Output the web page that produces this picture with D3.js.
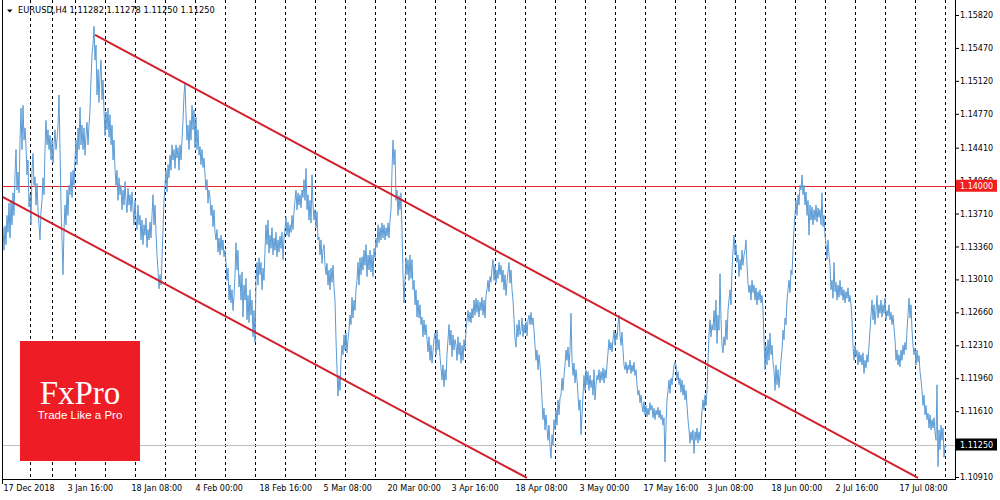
<!DOCTYPE html>
<html>
<head>
<meta charset="utf-8">
<script src="https://cdn.jsdelivr.net/npm/d3@7"></script>
<style>
  body { margin: 0; background: #fff; }
  svg { display: block; font-family: "DejaVu Sans", sans-serif; }
</style>
</head>
<body>
<svg id="chart" width="1000" height="500"></svg>
<script>
// header of the terminal window
const symbolName = "EURUSD,H4";
const lastBarOHLC = [1.11282, 1.11278, 1.11250, 1.11250];

// H4 closes, one per bar
const closes = [
  1.1343,1.1356,1.1332,1.1358,1.1338,1.1369,1.1351,1.1382,1.1345,1.1385,1.1359,1.1393,1.1369,1.1412,1.1439,1.1396,1.1415,1.1393,1.1449,1.1483,
  1.1439,1.1486,1.1449,1.1462,1.1442,1.1412,1.1428,1.1378,1.1391,1.1359,1.1417,1.1435,1.1401,1.1410,1.1380,1.1403,1.1375,1.1359,1.1343,1.1373,
  1.1385,1.1409,1.1391,1.1439,1.1470,1.1444,1.1460,1.1439,1.1454,1.1428,1.1449,1.1425,1.1444,1.1460,1.1439,1.1449,1.1465,1.1497,1.1439,1.1380,
  1.1343,1.1306,1.1354,1.1380,1.1359,1.1396,1.1369,1.1401,1.1391,1.1415,1.1388,1.1417,1.1401,1.1428,1.1449,1.1423,1.1462,1.1439,1.1484,1.1444,
  1.1465,1.1439,1.1462,1.1433,1.1454,1.1468,1.1444,1.1465,1.1481,1.1513,1.1540,1.1550,1.1570,1.1534,1.1550,1.1497,1.1524,1.1489,1.1518,1.1534,
  1.1492,1.1513,1.1481,1.1454,1.1479,1.1460,1.1483,1.1452,1.1476,1.1444,1.1465,1.1428,1.1449,1.1419,1.1401,1.1417,1.1385,1.1409,1.1391,1.1401,
  1.1375,1.1396,1.1380,1.1405,1.1385,1.1372,1.1398,1.1380,1.1391,1.1373,1.1394,1.1377,1.1359,1.1385,1.1366,1.1354,1.1380,1.1359,1.1369,1.1343,
  1.1364,1.1338,1.1359,1.1348,1.1366,1.1335,1.1354,1.1343,1.1362,1.1345,1.1369,1.1391,1.1359,1.1380,1.1351,1.1327,1.1311,1.1291,1.1306,1.1295,
  1.1322,1.1354,1.1385,1.1401,1.1417,1.1394,1.1423,1.1409,1.1433,1.1417,1.1444,1.1428,1.1439,1.1419,1.1444,1.1430,1.1441,1.1417,1.1444,1.1428,
  1.1449,1.1470,1.1497,1.1510,1.1476,1.1449,1.1465,1.1439,1.1470,1.1449,1.1486,1.1460,1.1481,1.1441,1.1473,1.1439,1.1460,1.1433,1.1442,1.1423,
  1.1439,1.1420,1.1430,1.1412,1.1396,1.1407,1.1382,1.1396,1.1388,1.1369,1.1380,1.1357,1.1375,1.1351,1.1343,1.1354,1.1330,1.1345,1.1327,1.1348,
  1.1332,1.1343,1.1325,1.1332,1.1319,1.1300,1.1313,1.1279,1.1295,1.1276,1.1290,1.1268,1.1284,1.1306,1.1340,1.1311,1.1332,1.1293,1.1306,1.1279,
  1.1309,1.1261,1.1295,1.1279,1.1302,1.1258,1.1284,1.1255,1.1290,1.1263,1.1279,1.1240,1.1268,1.1234,1.1300,1.1319,1.1295,1.1324,1.1306,1.1319,
  1.1290,1.1313,1.1300,1.1332,1.1359,1.1338,1.1364,1.1329,1.1348,1.1334,1.1356,1.1327,1.1345,1.1332,1.1351,1.1325,1.1343,1.1330,1.1347,1.1334,
  1.1351,1.1322,1.1345,1.1354,1.1367,1.1348,1.1362,1.1346,1.1359,1.1351,1.1369,1.1354,1.1373,1.1385,1.1396,1.1375,1.1393,1.1380,1.1391,1.1377,
  1.1396,1.1388,1.1407,1.1385,1.1419,1.1375,1.1391,1.1364,1.1385,1.1361,1.1412,1.1380,1.1364,1.1375,1.1356,1.1373,1.1343,1.1346,1.1327,1.1343,
  1.1318,1.1332,1.1338,1.1316,1.1306,1.1318,1.1295,1.1311,1.1290,1.1313,1.1298,1.1316,1.1293,1.1279,1.1237,1.1205,1.1177,1.1199,1.1183,1.1215,
  1.1231,1.1221,1.1242,1.1226,1.1244,1.1223,1.1237,1.1247,1.1263,1.1253,1.1282,1.1260,1.1279,1.1268,1.1290,1.1300,1.1319,1.1295,1.1324,1.1306,
  1.1325,1.1311,1.1332,1.1316,1.1338,1.1304,1.1327,1.1311,1.1332,1.1309,1.1327,1.1304,1.1334,1.1324,1.1345,1.1335,1.1359,1.1340,1.1356,1.1343,
  1.1361,1.1345,1.1359,1.1343,1.1356,1.1347,1.1361,1.1345,1.1364,1.1375,1.1417,1.1449,1.1423,1.1439,1.1385,1.1396,1.1369,1.1390,1.1375,1.1393,
  1.1354,1.1306,1.1276,1.1300,1.1324,1.1306,1.1322,1.1300,1.1327,1.1302,1.1322,1.1290,1.1300,1.1274,1.1290,1.1261,1.1279,1.1260,1.1274,1.1253,
  1.1261,1.1240,1.1258,1.1242,1.1253,1.1237,1.1224,1.1240,1.1215,1.1231,1.1212,1.1226,1.1237,1.1244,1.1221,1.1247,1.1226,1.1237,1.1219,1.1207,
  1.1194,1.1210,1.1187,1.1205,1.1194,1.1221,1.1237,1.1253,1.1231,1.1247,1.1219,1.1242,1.1226,1.1237,1.1231,1.1215,1.1240,1.1221,1.1234,1.1212,
  1.1231,1.1215,1.1237,1.1226,1.1247,1.1258,1.1268,1.1256,1.1266,1.1255,1.1270,1.1260,1.1279,1.1263,1.1281,1.1266,1.1279,1.1261,1.1277,1.1268,
  1.1282,1.1263,1.1279,1.1260,1.1284,1.1290,1.1300,1.1288,1.1304,1.1298,1.1313,1.1322,1.1300,1.1316,1.1297,1.1311,1.1302,1.1319,1.1306,1.1316,
  1.1298,1.1311,1.1290,1.1306,1.1284,1.1298,1.1309,1.1319,1.1297,1.1311,1.1290,1.1279,1.1258,1.1237,1.1229,1.1253,1.1240,1.1258,1.1242,1.1247,
  1.1260,1.1240,1.1253,1.1244,1.1256,1.1241,1.1258,1.1263,1.1253,1.1266,1.1253,1.1260,1.1247,1.1231,1.1215,1.1226,1.1205,1.1221,1.1210,1.1194,
  1.1173,1.1152,1.1164,1.1141,1.1157,1.1143,1.1130,1.1146,1.1123,1.1111,1.1136,1.1125,1.1152,1.1141,1.1162,1.1146,1.1173,1.1157,1.1175,1.1178,
  1.1196,1.1183,1.1199,1.1210,1.1226,1.1215,1.1229,1.1208,1.1226,1.1265,1.1215,1.1199,1.1212,1.1191,1.1205,1.1194,1.1178,1.1162,1.1173,1.1136,
  1.1157,1.1178,1.1199,1.1183,1.1205,1.1189,1.1203,1.1183,1.1199,1.1186,1.1194,1.1178,1.1205,1.1173,1.1189,1.1199,1.1194,1.1205,1.1191,1.1203,
  1.1194,1.1207,1.1191,1.1205,1.1196,1.1210,1.1223,1.1237,1.1226,1.1234,1.1224,1.1237,1.1247,1.1231,1.1244,1.1237,1.1253,1.1263,1.1242,1.1231,
  1.1245,1.1226,1.1210,1.1205,1.1213,1.1201,1.1210,1.1205,1.1215,1.1201,1.1210,1.1203,1.1213,1.1199,1.1205,1.1189,1.1178,1.1183,1.1170,1.1178,
  1.1167,1.1160,1.1171,1.1157,1.1167,1.1155,1.1164,1.1157,1.1170,1.1162,1.1167,1.1154,1.1164,1.1152,1.1162,1.1157,1.1165,1.1154,1.1162,1.1152,
  1.1157,1.1146,1.1154,1.1107,1.1146,1.1173,1.1183,1.1194,1.1180,1.1196,1.1189,1.1199,1.1210,1.1213,1.1210,1.1194,1.1203,1.1189,1.1196,1.1181,
  1.1194,1.1178,1.1189,1.1173,1.1183,1.1167,1.1152,1.1141,1.1127,1.1139,1.1130,1.1141,1.1116,1.1139,1.1130,1.1143,1.1127,1.1139,1.1130,1.1146,
  1.1162,1.1173,1.1162,1.1178,1.1167,1.1183,1.1215,1.1242,1.1258,1.1240,1.1253,1.1247,1.1268,1.1247,1.1279,1.1233,1.1263,1.1247,1.1307,1.1258,
  1.1231,1.1223,1.1240,1.1231,1.1258,1.1237,1.1268,1.1279,1.1290,1.1274,1.1311,1.1332,1.1348,1.1327,1.1338,1.1319,1.1327,1.1304,1.1322,1.1311,
  1.1332,1.1316,1.1327,1.1332,1.1343,1.1316,1.1297,1.1287,1.1295,1.1279,1.1300,1.1287,1.1295,1.1279,1.1292,1.1274,1.1288,1.1279,1.1290,1.1276,
  1.1284,1.1268,1.1237,1.1205,1.1231,1.1210,1.1237,1.1215,1.1244,1.1221,1.1231,1.1213,1.1205,1.1183,1.1210,1.1189,1.1205,1.1186,1.1199,1.1215,
  1.1226,1.1247,1.1237,1.1260,1.1253,1.1279,1.1290,1.1300,1.1287,1.1311,1.1306,1.1332,1.1354,1.1369,1.1385,1.1369,1.1391,1.1380,1.1401,1.1396,
  1.1412,1.1391,1.1401,1.1380,1.1394,1.1369,1.1385,1.1348,1.1380,1.1364,1.1378,1.1359,1.1375,1.1364,1.1380,1.1362,1.1377,1.1367,1.1375,1.1359,
  1.1393,1.1357,1.1369,1.1348,1.1338,1.1322,1.1343,1.1327,1.1316,1.1290,1.1300,1.1281,1.1319,1.1288,1.1298,1.1279,1.1295,1.1282,1.1300,1.1284,
  1.1293,1.1279,1.1290,1.1276,1.1288,1.1281,1.1292,1.1277,1.1284,1.1274,1.1258,1.1231,1.1215,1.1231,1.1219,1.1226,1.1210,1.1224,1.1213,1.1221,
  1.1210,1.1223,1.1201,1.1215,1.1207,1.1221,1.1213,1.1231,1.1247,1.1263,1.1279,1.1258,1.1274,1.1253,1.1268,1.1284,1.1260,1.1274,1.1265,1.1279,
  1.1261,1.1274,1.1265,1.1281,1.1258,1.1268,1.1262,1.1274,1.1258,1.1266,1.1253,1.1263,1.1250,1.1237,1.1215,1.1226,1.1210,1.1221,1.1208,1.1226,
  1.1215,1.1231,1.1221,1.1234,1.1226,1.1247,1.1263,1.1281,1.1260,1.1274,1.1247,1.1231,1.1221,1.1228,1.1210,1.1226,1.1213,1.1220,1.1203,1.1194,
  1.1183,1.1167,1.1178,1.1157,1.1167,1.1152,1.1159,1.1143,1.1157,1.1141,1.1152,1.1143,1.1154,1.1139,1.1130,1.1189,1.1102,1.1141,1.1120,1.1146,
  1.1130,1.1143,1.1112,1.1125
];

// bar index where each trading week starts (period separators)
const weekStarts = [28, 50, 73, 103, 133, 163, 193, 223, 253, 283, 313, 343, 373, 403, 433, 463,
  493, 523, 553, 583, 613, 643, 673, 703, 733, 763, 793, 823, 853, 883, 913, 943];

// time scale labels
const labelBars = [0, 64, 128, 192, 256, 320, 384, 448, 512, 576, 640, 704, 768, 832, 896];
const labelTexts = ["17 Dec 2018", "3 Jan 16:00", "18 Jan 08:00", "4 Feb 00:00", "18 Feb 16:00",
  "5 Mar 08:00", "20 Mar 00:00", "3 Apr 16:00", "18 Apr 08:00", "3 May 00:00", "17 May 16:00",
  "3 Jun 08:00", "18 Jun 00:00", "2 Jul 16:00", "17 Jul 08:00"];

// price scale labels
const priceTicks = [1.15820, 1.15470, 1.15120, 1.14770, 1.14410, 1.14060, 1.13710, 1.13360,
  1.13010, 1.12660, 1.12310, 1.11960, 1.11610, 1.11260, 1.10910];

// drawn objects: channel (bar, price) and levels
const upperChannel = [[93, 1.1561], [916, 1.1090]];
const lowerChannel = [[0, 1.1389], [525, 1.1090]];
const levelPrice = 1.14000;
const bidPrice = 1.11250;

const svg = d3.select("#chart");

let x = d3.scaleLinear()
  .domain([0, 953])
  .range([2, 955]);

let y = d3.scaleLinear()
  .domain([1.10910, 1.15820])
  .range([477, 15]);

svg.append("defs").append("clipPath")
  .attr("id", "plotClip")
  .append("rect")
  .attr("x", 2).attr("y", 0)
  .attr("width", 953).attr("height", 479);

let plot = svg.append("g").attr("clip-path", "url(#plotClip)");

// period separators
plot.selectAll(".sep")
  .data(weekStarts)
  .join("line")
  .attr("class", "sep")
  .attr("x1", d => Math.round(x(d)) + 0.5)
  .attr("x2", d => Math.round(x(d)) + 0.5)
  .attr("y1", 0)
  .attr("y2", 479)
  .attr("stroke", "#000")
  .attr("stroke-dasharray", "3,3")
  .attr("shape-rendering", "crispEdges");

// bid line
plot.append("line")
  .attr("x1", 2).attr("x2", 955)
  .attr("y1", Math.round(y(bidPrice)) + 0.5)
  .attr("y2", Math.round(y(bidPrice)) + 0.5)
  .attr("stroke", "#c0c0c0")
  .attr("shape-rendering", "crispEdges");

// horizontal level
plot.append("line")
  .attr("x1", 2).attr("x2", 955)
  .attr("y1", Math.round(y(levelPrice)) + 0.5)
  .attr("y2", Math.round(y(levelPrice)) + 0.5)
  .attr("stroke", "#e3262b")
  .attr("shape-rendering", "crispEdges");

// price line
plot.append("path")
  .datum(closes)
  .attr("fill", "none")
  .attr("stroke", "#5b9bd5")
  .attr("stroke-width", 1)
  .attr("d", d3.line().x((d, i) => x(i)).y(d => y(d)));

// channel
plot.selectAll(".channel")
  .data([upperChannel, lowerChannel])
  .join("path")
  .attr("class", "channel")
  .attr("fill", "none")
  .attr("stroke", "#d1202b")
  .attr("stroke-width", 2)
  .attr("d", d3.line().x(d => x(d[0])).y(d => y(d[1])));

// frame
svg.append("path")
  .attr("d", "M2.5,0V484M2,479.5H955.5M955.5,0V480")
  .attr("fill", "none")
  .attr("stroke", "#000")
  .attr("shape-rendering", "crispEdges");

// price axis
let yAxis = svg.append("g")
  .attr("transform", "translate(955,0)")
  .call(d3.axisRight(y)
    .tickValues(priceTicks)
    .tickFormat(d3.format(".5f"))
    .tickSize(4)
    .tickPadding(1)
    .tickSizeOuter(0));
yAxis.select(".domain").remove();
yAxis.selectAll("text").style("font-family", "DejaVu Sans").style("font-size", "8px").attr("fill", "#000");

// time axis
let xAxis = svg.append("g")
  .attr("transform", "translate(0,479)")
  .call(d3.axisBottom(x)
    .tickValues(labelBars)
    .tickFormat((d, i) => labelTexts[i])
    .tickSize(0)
    .tickPadding(6));
xAxis.select(".domain").remove();
xAxis.selectAll("text")
  .attr("text-anchor", "start")
  .attr("dx", 1)
  .style("font-family", "DejaVu Sans").style("font-size", "8px").attr("fill", "#000");

// price tags
const tags = [
  { price: levelPrice, fill: "#f21d1d" },
  { price: bidPrice, fill: "#000" }
];
let tag = svg.selectAll(".tag")
  .data(tags)
  .join("g")
  .attr("class", "tag")
  .attr("transform", d => "translate(956," + y(d.price) + ")");
tag.append("rect")
  .attr("x", 0).attr("y", -6.5)
  .attr("width", 41).attr("height", 12)
  .attr("fill", d => d.fill);
tag.append("text")
  .attr("x", 4).attr("y", 3)
  .style("font-size", "8px")
  .attr("fill", "#fff")
  .text(d => d.price.toFixed(5));

// header
svg.append("path")
  .attr("d", "M7,9.5H12.5L9.75,12.5Z")
  .attr("fill", "#000");
svg.append("text")
  .attr("x", 18).attr("y", 13)
  .style("font-size", "8.3px")
  .attr("fill", "#000")
  .text(symbolName + "  " + lastBarOHLC.map(v => v.toFixed(5)).join(" "));

// logo
let logo = svg.append("g").attr("transform", "translate(20,341)");
logo.append("rect")
  .attr("width", 120).attr("height", 120)
  .attr("fill", "#ee1c24");
logo.append("text")
  .attr("x", 60).attr("y", 63)
  .attr("text-anchor", "middle")
  .style("font-family", "Liberation Serif, serif")
  .style("font-size", "33px")
  .attr("fill", "#fff")
  .text("FxPro");
logo.append("text")
  .attr("x", 60).attr("y", 78)
  .attr("text-anchor", "middle")
  .style("font-family", "Liberation Sans, sans-serif")
  .style("font-size", "11.5px")
  .attr("fill", "#fff")
  .text("Trade Like a Pro");
</script>
</body>
</html>
